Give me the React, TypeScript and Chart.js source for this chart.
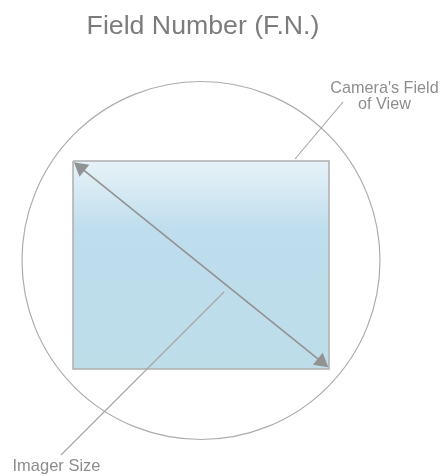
import React, { useEffect, useRef } from "react";
import { Chart, registerables } from "chart.js";

Chart.register(...registerables);

// ---- Diagram data (in page pixel units, y downward) ----
const titleText = "Field Number (F.N.)";
const titlePos = [203, 34];

const circleCenter = [201, 260.5];
const circleRadius = 179;

const imagerRectX = [73, 329, 329, 73, 73];
const imagerRectY = [161, 161, 369, 369, 161];

const diagonalX = [80.9, 321.3];
const diagonalY = [167.9, 361.6];

const cameraLeaderX = [295, 343];
const cameraLeaderY = [159, 102];
const cameraLabel = ["Camera's Field", "of View"];
const cameraLabelPos = [384.5, 93];

const imagerLeaderX = [224, 61];
const imagerLeaderY = [292, 455];
const imagerLabel = "Imager Size";
const imagerLabelPos = [12.5, 471];

const FONT = "'Liberation Sans', Arial, Helvetica, sans-serif";

const toPoints = (xs: number[], ys: number[]) => xs.map((x, i) => ({ x, y: ys[i] }));

export default function App() {
  const ref = useRef<HTMLCanvasElement | null>(null);

  useEffect(() => {
    if (!ref.current) return;

    const circlePlugin = {
      id: "fovCircle",
      beforeDatasetsDraw(chart: any) {
        const { ctx, scales } = chart;
        const sx = scales.x, sy = scales.y;
        const cx = sx.getPixelForValue(circleCenter[0]);
        const cy = sy.getPixelForValue(circleCenter[1]);
        const r = sx.getPixelForValue(circleCenter[0] + circleRadius) - cx;
        ctx.save();
        ctx.beginPath();
        ctx.arc(cx, cy, r, 0, Math.PI * 2);
        ctx.strokeStyle = "#acacac";
        ctx.lineWidth = 1.2;
        ctx.stroke();
        ctx.restore();
      },
      afterDatasetsDraw(chart: any) {
        const { ctx, scales } = chart;
        const sx = scales.x, sy = scales.y;
        ctx.save();
        ctx.textBaseline = "alphabetic";
        // title
        ctx.fillStyle = "#7c7c7c";
        ctx.font = `26.7px ${FONT}`;
        ctx.textAlign = "center";
        ctx.fillText(titleText, sx.getPixelForValue(titlePos[0]), sy.getPixelForValue(titlePos[1]));
        // camera label
        ctx.fillStyle = "#8e8e8e";
        ctx.font = `16.2px ${FONT}`;
        cameraLabel.forEach((t, i) => {
          ctx.fillText(t, sx.getPixelForValue(cameraLabelPos[0]), sy.getPixelForValue(cameraLabelPos[1] + i * 16.3));
        });
        // imager label
        ctx.textAlign = "left";
        ctx.font = `16.5px ${FONT}`;
        ctx.fillText(imagerLabel, sx.getPixelForValue(imagerLabelPos[0]), sy.getPixelForValue(imagerLabelPos[1]));
        ctx.restore();
      },
    };

    const rectGradient = (c: any) => {
      const chart = c.chart;
      const { ctx, scales, chartArea } = chart;
      if (!chartArea || !scales || !scales.y) return "#bddde9";
      const top = scales.y.getPixelForValue(imagerRectY[0]);
      const bottom = scales.y.getPixelForValue(imagerRectY[2]);
      if (!isFinite(top) || !isFinite(bottom)) return "#bddde9";
      const g = ctx.createLinearGradient(0, top, 0, bottom);
      g.addColorStop(0, "#e6f2f8");
      g.addColorStop(0.12, "#d9ebf4");
      g.addColorStop(0.33, "#bedded");
      g.addColorStop(1, "#bddde9");
      return g;
    };

    const arrowRotations = (() => {
      const dx = diagonalX[1] - diagonalX[0];
      const dy = diagonalY[1] - diagonalY[0];
      const a = (Math.atan2(dx, -dy) * 180) / Math.PI;
      return [a + 180, a];
    })();

    const chart = new Chart(ref.current, {
      type: "scatter",
      data: {
        datasets: [
          {
            data: toPoints(diagonalX, diagonalY),
            showLine: true,
            borderColor: "#929292",
            backgroundColor: "#929292",
            borderWidth: 1.6,
            pointStyle: "triangle",
            pointRadius: 9,
            pointBorderWidth: 0,
            pointRotation: arrowRotations,
            clip: false,
          } as any,
          {
            data: toPoints(cameraLeaderX, cameraLeaderY),
            showLine: true,
            borderColor: "#a4a4a4",
            borderWidth: 1.1,
            pointRadius: 0,
          },
          {
            data: toPoints(imagerLeaderX, imagerLeaderY),
            showLine: true,
            borderColor: "#a4a4a4",
            borderWidth: 1.1,
            pointRadius: 0,
          },
          {
            data: toPoints(imagerRectX, imagerRectY),
            showLine: true,
            fill: "shape",
            borderColor: "#afafaf",
            borderWidth: 1.5,
            backgroundColor: rectGradient,
            pointRadius: 0,
            tension: 0,
          } as any,
        ],
      },
      options: {
        animation: false,
        responsive: false,
        events: [],
        layout: { padding: 0, autoPadding: false },
        plugins: {
          legend: { display: false },
          tooltip: { enabled: false },
          title: { display: false },
        },
        scales: {
          x: { type: "linear", min: 0, max: 442, display: false },
          y: { type: "linear", min: 0, max: 476, reverse: true, display: false },
        },
      },
      plugins: [circlePlugin],
    });

    return () => chart.destroy();
  }, []);

  return (
    <div style={{ position: "fixed", left: 0, top: 0, width: 442, height: 476, background: "#ffffff" }}>
      <canvas ref={ref} width={442} height={476} style={{ width: 442, height: 476, display: "block" }} />
    </div>
  );
}
